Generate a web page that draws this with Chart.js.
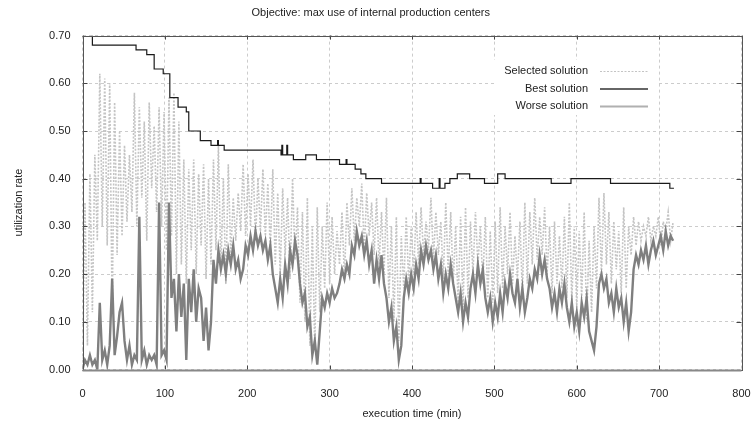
<!DOCTYPE html>
<html>
<head>
<meta charset="utf-8">
<script src="https://cdn.jsdelivr.net/npm/chart.js@4.4.0/dist/chart.umd.min.js"></script>
<style>
  html, body { margin: 0; padding: 0; background: #fff; }
</style>
</head>
<body>
<canvas id="utilChart" width="754" height="429"></canvas>
<script>
// worse + selected solutions sampled every 3 minutes, starting at 0 (one row = 30 min)
const sampleStep = 3;

const worseValues = [
    0.00, 0.02, 0.01, 0.03, 0.01, 0.02, 0.00, 0.14, 0.02, 0.04,
    0.01, 0.05, 0.19, 0.03, 0.07, 0.12, 0.14, 0.06, 0.02, 0.05,
    0.01, 0.03, 0.02, 0.32, 0.02, 0.04, 0.01, 0.03, 0.02, 0.03,
    0.01, 0.35, 0.03, 0.04, 0.02, 0.35, 0.15, 0.19, 0.08, 0.20,
    0.11, 0.18, 0.02, 0.19, 0.12, 0.21, 0.10, 0.17, 0.15, 0.06,
    0.13, 0.04, 0.10, 0.23, 0.18, 0.25, 0.21, 0.24, 0.20, 0.25,
    0.22, 0.26, 0.21, 0.23, 0.19, 0.21, 0.26, 0.24, 0.28, 0.25,
    0.29, 0.26, 0.28, 0.25, 0.27, 0.23, 0.26, 0.20, 0.17, 0.14,
    0.19, 0.15, 0.22, 0.18, 0.25, 0.22, 0.27, 0.24, 0.18, 0.14,
    0.16, 0.09, 0.11, 0.03, 0.06, 0.01, 0.08, 0.15, 0.13, 0.16,
    0.14, 0.17, 0.15, 0.16, 0.18, 0.21, 0.19, 0.22, 0.20, 0.26,
    0.24, 0.29, 0.26, 0.28, 0.24, 0.27, 0.22, 0.25, 0.18, 0.23,
    0.19, 0.24, 0.18, 0.15, 0.10, 0.13, 0.06, 0.09, 0.02, 0.05,
    0.15, 0.19, 0.16, 0.20, 0.17, 0.22, 0.19, 0.25, 0.22, 0.26,
    0.23, 0.25, 0.21, 0.24, 0.19, 0.22, 0.16, 0.20, 0.17, 0.22,
    0.18, 0.15, 0.12, 0.16, 0.10, 0.14, 0.11, 0.17, 0.20, 0.16,
    0.22, 0.18, 0.21, 0.15, 0.12, 0.15, 0.10, 0.14, 0.11, 0.16,
    0.12, 0.18, 0.15, 0.20, 0.16, 0.14, 0.19, 0.13, 0.17, 0.12,
    0.15, 0.19, 0.17, 0.21, 0.19, 0.24, 0.20, 0.23, 0.19, 0.17,
    0.13, 0.16, 0.12, 0.17, 0.14, 0.18, 0.13, 0.10, 0.14, 0.09,
    0.12, 0.08, 0.14, 0.11, 0.15, 0.08, 0.06, 0.04, 0.09, 0.18,
    0.20, 0.17, 0.19, 0.14, 0.16, 0.12, 0.17, 0.13, 0.15, 0.10,
    0.14, 0.08, 0.12, 0.21, 0.24, 0.22, 0.25, 0.23, 0.26, 0.22,
    0.25, 0.27, 0.24, 0.26, 0.28, 0.25, 0.29, 0.26, 0.28, 0.27
];

const selectedValues = [
    0.00, 0.35, 0.05, 0.41, 0.12, 0.45, 0.27, 0.62, 0.30, 0.61,
    0.26, 0.60, 0.12, 0.56, 0.24, 0.50, 0.28, 0.47, 0.31, 0.45,
    0.33, 0.58, 0.30, 0.55, 0.36, 0.52, 0.27, 0.56, 0.38, 0.51,
    0.33, 0.55, 0.30, 0.54, 0.25, 0.57, 0.28, 0.58, 0.20, 0.52,
    0.22, 0.44, 0.18, 0.42, 0.25, 0.44, 0.20, 0.41, 0.26, 0.43,
    0.19, 0.40, 0.22, 0.44, 0.25, 0.47, 0.21, 0.40, 0.18, 0.43,
    0.24, 0.36, 0.27, 0.37, 0.29, 0.43, 0.28, 0.41, 0.30, 0.44,
    0.27, 0.40, 0.29, 0.42, 0.28, 0.39, 0.25, 0.42, 0.22, 0.37,
    0.20, 0.38, 0.24, 0.36, 0.19, 0.40, 0.23, 0.34, 0.14, 0.33,
    0.10, 0.36, 0.05, 0.30, 0.04, 0.34, 0.12, 0.30, 0.17, 0.35,
    0.18, 0.32, 0.20, 0.29, 0.22, 0.33, 0.19, 0.35, 0.26, 0.38,
    0.27, 0.36, 0.30, 0.39, 0.25, 0.37, 0.28, 0.35, 0.24, 0.36,
    0.22, 0.33, 0.20, 0.36, 0.15, 0.30, 0.10, 0.32, 0.06, 0.28,
    0.17, 0.32, 0.18, 0.30, 0.20, 0.33, 0.22, 0.34, 0.24, 0.31,
    0.25, 0.36, 0.23, 0.33, 0.24, 0.31, 0.19, 0.35, 0.20, 0.33,
    0.18, 0.30, 0.14, 0.32, 0.13, 0.34, 0.15, 0.31, 0.20, 0.33,
    0.22, 0.30, 0.18, 0.32, 0.15, 0.29, 0.14, 0.31, 0.16, 0.34,
    0.17, 0.30, 0.20, 0.33, 0.18, 0.28, 0.19, 0.31, 0.16, 0.35,
    0.18, 0.33, 0.22, 0.36, 0.23, 0.32, 0.24, 0.34, 0.20, 0.30,
    0.16, 0.31, 0.18, 0.28, 0.17, 0.32, 0.15, 0.35, 0.14, 0.30,
    0.13, 0.29, 0.15, 0.33, 0.10, 0.27, 0.12, 0.30, 0.17, 0.36,
    0.20, 0.37, 0.22, 0.33, 0.18, 0.31, 0.21, 0.29, 0.16, 0.34,
    0.17, 0.30, 0.24, 0.32, 0.26, 0.31, 0.27, 0.30, 0.28, 0.32,
    0.27, 0.30, 0.28, 0.32, 0.26, 0.31, 0.29, 0.33, 0.27, 0.31
];

// best solution: minute at which the value changes, and the new value
const bestTimes = [12, 12, 65, 78, 87, 98, 106, 116, 126, 129, 143, 156, 164, 165, 172,
    241, 242, 243, 248, 249, 256, 271, 284, 312, 320, 321, 331, 338, 344, 363,
    410, 411, 425, 433, 434, 440, 446, 455, 470, 488, 504, 513, 569, 593, 641, 713, 718];
const bestValues = [0.70, 0.68, 0.67, 0.66, 0.63, 0.62, 0.57, 0.55, 0.54, 0.50, 0.48, 0.47, 0.48, 0.47, 0.46,
    0.45, 0.47, 0.45, 0.47, 0.45, 0.44, 0.45, 0.44, 0.43, 0.44, 0.43, 0.42, 0.41, 0.40, 0.39,
    0.40, 0.39, 0.38, 0.40, 0.38, 0.39, 0.40, 0.41, 0.40, 0.39, 0.41, 0.40, 0.39, 0.40, 0.39, 0.38, 0.38];

const xTicks = [0, 100, 200, 300, 400, 500, 600, 700, 800];
const yTicks = [0, 0.1, 0.2, 0.3, 0.4, 0.5, 0.6, 0.7];

const FONT = "'Liberation Sans', Arial, sans-serif";

const sampled = vals => vals.map((v, i) => ({ x: i * sampleStep, y: v }));
const bestPoints = bestTimes.map((t, i) => ({ x: t, y: bestValues[i] }));

// gnuplot-like frame, inward ticks and boxed legend
const framePlugin = {
    id: 'frame',
    afterDatasetsDraw(chart) {
        const { ctx, chartArea: a, scales } = chart;
        ctx.save();
        // legend
        ctx.fillStyle = '#fff';
        ctx.fillRect(494, 60, 163, 55);
        ctx.font = '11px ' + FONT;
        ctx.textAlign = 'right';
        ctx.textBaseline = 'middle';
        chart.data.datasets.forEach((ds, i) => {
            const y = 71 + i * 17.5;
            ctx.fillStyle = '#222';
            ctx.fillText(ds.label, 588, y);
            ctx.strokeStyle = ds.legendColor;
            ctx.lineWidth = ds.legendWidth;
            ctx.setLineDash(ds.borderDash || []);
            ctx.beginPath();
            ctx.moveTo(600, y + 0.5);
            ctx.lineTo(648, y + 0.5);
            ctx.stroke();
        });
        ctx.setLineDash([]);
        // tick marks
        ctx.strokeStyle = '#444';
        ctx.lineWidth = 1;
        ctx.beginPath();
        xTicks.forEach(t => {
            const x = Math.round(scales.x.getPixelForValue(t)) + 0.5;
            ctx.moveTo(x, a.bottom); ctx.lineTo(x, a.bottom - 4);
            ctx.moveTo(x, a.top); ctx.lineTo(x, a.top + 4);
        });
        yTicks.forEach(t => {
            const y = Math.round(scales.y.getPixelForValue(t)) + 0.5;
            ctx.moveTo(a.left, y); ctx.lineTo(a.left + 5, y);
            ctx.moveTo(a.right, y); ctx.lineTo(a.right - 5, y);
        });
        ctx.stroke();
        ctx.strokeStyle = '#555';
        ctx.strokeRect(Math.round(a.left) + 0.5, Math.round(a.top) + 0.5,
            Math.round(a.right - a.left), Math.round(a.bottom - a.top));
        ctx.strokeStyle = '#888';
        ctx.lineWidth = 2;
        ctx.beginPath();
        ctx.moveTo(a.left, Math.round(a.bottom) + 0.5);
        ctx.lineTo(a.right, Math.round(a.bottom) + 0.5);
        ctx.stroke();
        ctx.restore();
    }
};

const ctx = document.getElementById('utilChart').getContext('2d');

new Chart(ctx, {
    type: 'line',
    data: {
        datasets: [{
            label: 'Selected solution',
            data: sampled(selectedValues),
            borderColor: '#c4c4c4',
            legendColor: '#c4c4c4',
            borderWidth: 1.6,
            legendWidth: 1,
            borderDash: [2, 1.5],
            order: 3
        }, {
            label: 'Best solution',
            data: bestPoints,
            borderColor: '#1a1a1a',
            legendColor: '#333',
            borderWidth: 1.2,
            legendWidth: 1.5,
            stepped: 'before',
            order: 1
        }, {
            label: 'Worse solution',
            data: sampled(worseValues),
            borderColor: '#7f7f7f',
            legendColor: '#b0b0b0',
            borderWidth: 2.4,
            legendWidth: 2,
            order: 2
        }]
    },
    options: {
        responsive: false,
        animation: false,
        layout: { padding: { left: 0, right: 12.5, top: 0, bottom: 0 } },
        elements: { point: { radius: 0 }, line: { tension: 0 } },
        plugins: {
            legend: { display: false },
            tooltip: { enabled: false },
            title: {
                display: true,
                text: 'Objective: max use of internal production centers',
                color: '#222',
                font: { family: FONT, size: 11, weight: 'normal' },
                padding: { top: 6, bottom: 16.4 }
            }
        },
        scales: {
            x: {
                type: 'linear',
                min: 0,
                max: 800,
                afterFit: s => { s.height = 59.5; s.paddingLeft = 0; s.paddingRight = 0; },
                afterBuildTicks: s => { s.ticks = xTicks.map(v => ({ value: v })); },
                ticks: { color: '#222', padding: 18, font: { family: FONT, size: 11 } },
                grid: { color: '#cccccc', drawTicks: false },
                border: { display: false, dash: [3, 3] },
                title: {
                    display: true,
                    text: 'execution time (min)',
                    color: '#222',
                    font: { family: FONT, size: 11 },
                    padding: { top: 0, bottom: 8.4 }
                }
            },
            y: {
                min: 0,
                max: 0.7,
                afterFit: s => { s.width = 82.5; s.paddingTop = 0; s.paddingBottom = 0; },
                afterBuildTicks: s => { s.ticks = yTicks.map(v => ({ value: v })); },
                ticks: {
                    color: '#222',
                    padding: 12,
                    font: { family: FONT, size: 11 },
                    callback: v => v.toFixed(2)
                },
                grid: { color: '#cccccc', drawTicks: false },
                border: { display: false, dash: [3, 3] },
                title: {
                    display: true,
                    text: 'utilization rate',
                    color: '#222',
                    font: { family: FONT, size: 11 },
                    padding: { top: 12, bottom: 0 }
                }
            }
        }
    },
    plugins: [framePlugin]
});
</script>
</body>
</html>
